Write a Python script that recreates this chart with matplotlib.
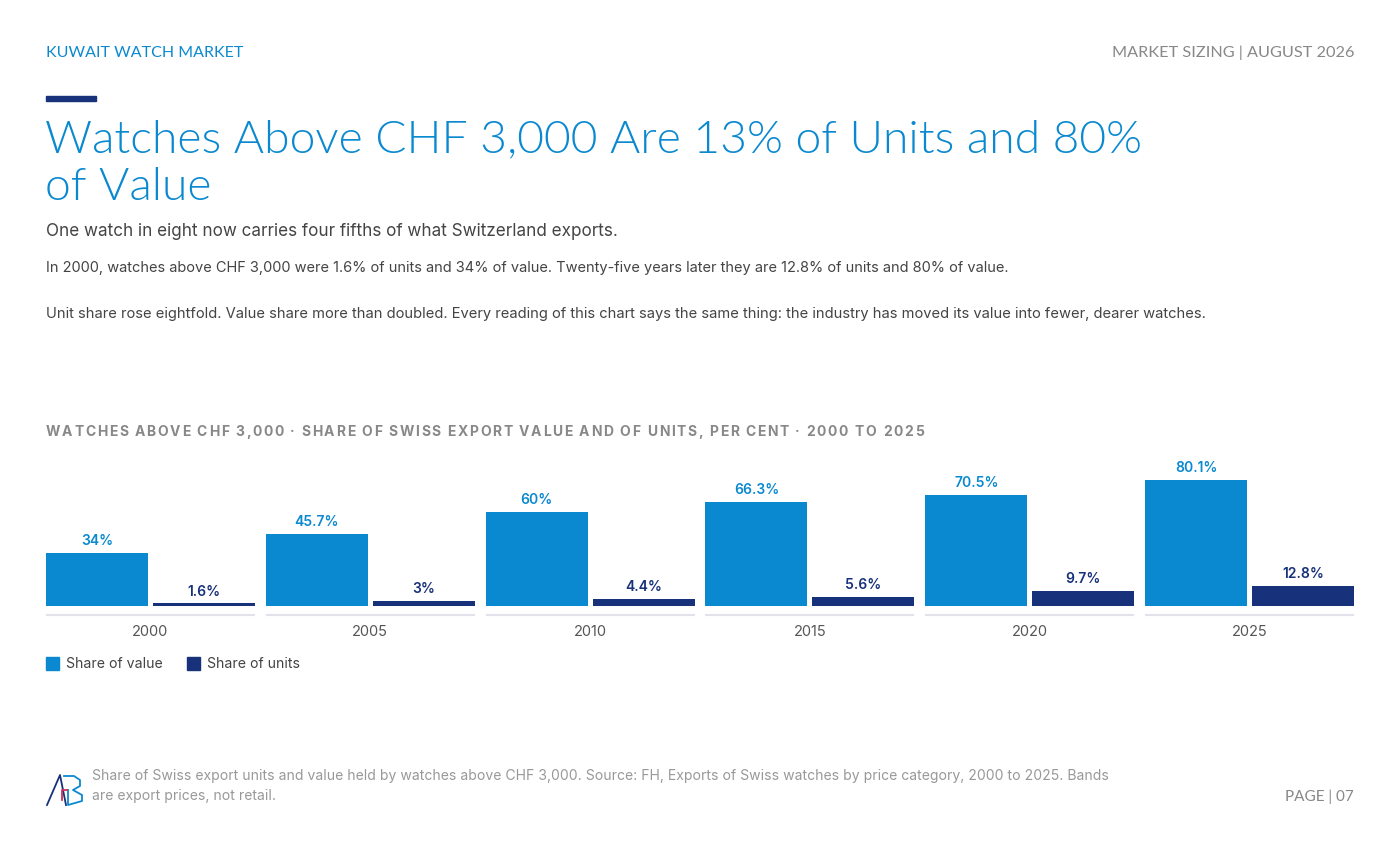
import matplotlib
matplotlib.use("Agg")
import matplotlib.pyplot as plt
import numpy as np
from matplotlib.lines import Line2D
from matplotlib.patches import Rectangle

# ---- data ----
years = ["2000", "2005", "2010", "2015", "2020", "2025"]
share_value = [34, 45.7, 60, 66.3, 70.5, 80.1]
share_units = [1.6, 3, 4.4, 5.6, 9.7, 12.8]
value_labels = ["34%", "45.7%", "60%", "66.3%", "70.5%", "80.1%"]
unit_labels = ["1.6%", "3%", "4.4%", "5.6%", "9.7%", "12.8%"]
series_names = ["Share of value", "Share of units"]

BLUE = "#0a89d0"
NAVY = "#17317a"
GREY_T = "#888888"
DARK_T = "#444444"

W, H = 1400, 852
fig = plt.figure(figsize=(W / 100, H / 100), dpi=100)
fig.patch.set_facecolor("white")

def fx(px):
    return px / W

def fy(py):
    return 1 - py / H

HEAD_FONT = ["Lato", "DejaVu Sans"]
BODY_FONT = ["Inter", "DejaVu Sans"]

# header
fig.text(fx(46), fy(53), "KUWAIT WATCH MARKET", color=BLUE, fontsize=11.5,
         family=HEAD_FONT, va="center", ha="left")
fig.text(fx(1354), fy(53), "MARKET SIZING | AUGUST 2026", color=GREY_T, fontsize=11.7,
         family=HEAD_FONT, va="center", ha="right")

# accent bar
fig.patches.append(Rectangle((fx(46), fy(101)), fx(50), 5 / H, color=NAVY,
                             transform=fig.transFigure, figure=fig))

# title
fig.text(fx(45), fy(140), "Watches Above CHF 3,000 Are 13% of Units and 80%", color=BLUE,
         fontsize=33.3, family=HEAD_FONT, fontweight=300, va="center", ha="left")
fig.text(fx(45), fy(187), "of Value", color=BLUE,
         fontsize=33.3, family=HEAD_FONT, fontweight=300, va="center", ha="left")

# subtitle and body
fig.text(fx(46), fy(231), "One watch in eight now carries four fifths of what Switzerland exports.",
         color=DARK_T, fontsize=12.3, family=BODY_FONT, va="center", ha="left")
fig.text(fx(46), fy(268),
         "In 2000, watches above CHF 3,000 were 1.6% of units and 34% of value. Twenty-five years later they are 12.8% of units and 80% of value.",
         color=DARK_T, fontsize=10.5, family=BODY_FONT, va="center", ha="left")
fig.text(fx(46), fy(314),
         "Unit share rose eightfold. Value share more than doubled. Every reading of this chart says the same thing: the industry has moved its value into fewer, dearer watches.",
         color=DARK_T, fontsize=10.6, family=BODY_FONT, va="center", ha="left")

# chart title with letter spacing
chart_title = "WATCHES ABOVE CHF 3,000 · SHARE OF SWISS EXPORT VALUE AND OF UNITS, PER CENT · 2000 TO 2025"
renderer = fig.canvas.get_renderer()
x_px = 46.0
tracking = 1.65
for ch in chart_title:
    t = fig.text(fx(x_px), fy(432), ch, color=GREY_T, fontsize=10, family=BODY_FONT,
                 fontweight="bold", va="center", ha="left")
    if ch == " ":
        probe = fig.text(0, 0, "a a", fontsize=10, family=BODY_FONT, fontweight="bold")
        probe2 = fig.text(0, 0, "aa", fontsize=10, family=BODY_FONT, fontweight="bold")
        w = probe.get_window_extent(renderer).width - probe2.get_window_extent(renderer).width
        probe.remove(); probe2.remove()
    else:
        w = t.get_window_extent(renderer).width
    x_px += w + tracking

# chart axes
ax_left, ax_right = 46, 1354
ax_bottom, ax_top = 606, 448.7
ax = fig.add_axes([fx(ax_left), fy(ax_bottom), (ax_right - ax_left) / W, (ax_bottom - ax_top) / H])
ax.set_xlim(-0.475, len(years) - 1 + 0.475)
ax.set_ylim(0, 100)
ax.axis("off")

x = np.arange(len(years))
bw = 102 / 220
off = 53.5 / 220
ax.bar(x - off, share_value, width=bw, color=BLUE, edgecolor="none")
ax.bar(x + off, share_units, width=bw, color=NAVY, edgecolor="none")

px_per_unit = (ax_bottom - ax_top) / 100.0
for i in range(len(years)):
    ax.annotate(value_labels[i], (x[i] - off, share_value[i]), xytext=(0, 3.5),
                textcoords="offset points", ha="center", va="bottom", color=BLUE,
                fontsize=10, fontweight="semibold", family=BODY_FONT)
    ax.annotate(unit_labels[i], (x[i] + off, share_units[i]), xytext=(0, 3.5),
                textcoords="offset points", ha="center", va="bottom", color=NAVY,
                fontsize=10, fontweight="semibold", family=BODY_FONT)
    # group baseline
    yl = -9 / px_per_unit
    ax.plot([x[i] - 0.475, x[i] + 0.475], [yl, yl], color="#e2e3ea", lw=1.5,
            clip_on=False, solid_capstyle="butt")
    ax.annotate(years[i], (x[i], 0), xytext=(0, -26 * 0.72), textcoords="offset points",
                ha="center", va="center", color="#555555", fontsize=10.5, family=BODY_FONT,
                annotation_clip=False)

# legend
for sx, col, name in [(46, BLUE, series_names[0]), (187, NAVY, series_names[1])]:
    fig.patches.append(Rectangle((fx(sx), fy(670)), 13 / W, 13 / H, color=col,
                                 transform=fig.transFigure, figure=fig))
    fig.text(fx(sx + 20), fy(664), name, color=DARK_T, fontsize=10.2, family=BODY_FONT,
             va="center", ha="left")

# footer logo (stylised AB)
logo = [
    ([47, 60, 66], [805, 775, 805], NAVY),
    ([64, 74, 80, 80, 73, 82, 82, 68, 68], [776, 776, 780, 786, 790, 795, 801, 805, 790], BLUE),
    ([62, 62, 67], [800, 790, 790], "#d0305a"),
]
for xs, ys, col in logo:
    fig.add_artist(Line2D([fx(v) for v in xs], [fy(v) for v in ys], color=col, lw=1.3,
                          transform=fig.transFigure))

fig.text(fx(92), fy(776),
         "Share of Swiss export units and value held by watches above CHF 3,000. Source: FH, Exports of Swiss watches by price category, 2000 to 2025. Bands",
         color="#999999", fontsize=10.1, family=BODY_FONT, va="center", ha="left")
fig.text(fx(92), fy(796), "are export prices, not retail.",
         color="#999999", fontsize=10.1, family=BODY_FONT, va="center", ha="left")
fig.text(fx(1354), fy(797), "PAGE | 07", color=GREY_T, fontsize=11, family=HEAD_FONT,
         va="center", ha="right")

fig.savefig("out.png", dpi=100, facecolor="white")
